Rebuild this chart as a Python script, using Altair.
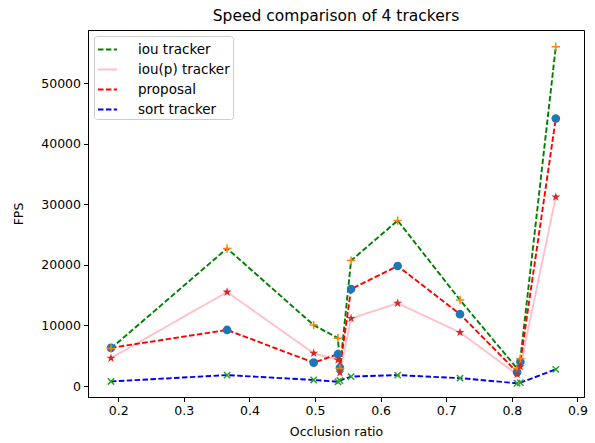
import altair as alt
import pandas as pd

occlusion = [0.189, 0.366, 0.498, 0.535, 0.538, 0.555, 0.626, 0.721, 0.808, 0.813, 0.867]
iou_tracker = [6200, 22700, 10050, 7900, 2900, 20700, 27300, 14200, 2900, 4500, 56000]
iou_p_tracker = [4600, 15500, 5400, 4300, 2200, 11150, 13650, 8850, 1900, 3200, 31200]
proposal = [6300, 9250, 3850, 5250, 3000, 16000, 19800, 11850, 2300, 4000, 44150]
sort_tracker = [750, 1800, 1000, 700, 900, 1550, 1800, 1300, 450, 550, 2750]

series_names = ["iou tracker", "iou(p) tracker", "proposal", "sort tracker"]
series_vals = [iou_tracker, iou_p_tracker, proposal, sort_tracker]
line_colors = ["#008000", "#ffc0cb", "#ff0000", "#0000ff"]
line_dashes = [[5.5, 2.4], [1, 0], [5.5, 2.4], [5.5, 2.4]]

rows = []
for name, vals in zip(series_names, series_vals):
    for x, y in zip(occlusion, vals):
        rows.append({"ratio": x, "fps": y, "series": name})
df = pd.DataFrame(rows)

xs = alt.Scale(domain=[0.154, 0.91], nice=False, zero=False)
ys = alt.Scale(domain=[-1815, 58750], nice=False, zero=False)

x_enc = alt.X("ratio:Q", scale=xs, title="Occlusion ratio",
              axis=alt.Axis(values=[0.2, 0.3, 0.4, 0.5, 0.6, 0.7, 0.8, 0.9], format=".1f"))
y_enc = alt.Y("fps:Q", scale=ys, title="FPS",
              axis=alt.Axis(values=[0, 10000, 20000, 30000, 40000, 50000], format="d"))

STAR = ("M0,-1L0.2245,-0.309L0.951,-0.309L0.363,0.118L0.588,0.809L0,0.382"
        "L-0.588,0.809L-0.363,0.118L-0.951,-0.309L-0.2245,-0.309Z")

base = alt.Chart(df)

lines = base.mark_line(strokeWidth=1.9).encode(
    x=x_enc,
    y=y_enc,
    color=alt.Color("series:N", scale=alt.Scale(domain=series_names, range=line_colors),
                    legend=alt.Legend(title=None)),
    strokeDash=alt.StrokeDash("series:N", scale=alt.Scale(domain=series_names, range=line_dashes),
                              legend=alt.Legend(title=None)),
)

circles = base.transform_filter(alt.datum.series == "proposal").mark_point(
    shape="circle", filled=True, size=75, color="#1f77b4", opacity=1).encode(x=x_enc, y=y_enc)
pluses = base.transform_filter(alt.datum.series == "iou tracker").mark_point(
    shape="M-1,0L1,0M0,-1L0,1", filled=False, size=70, color="#ff7f0e", strokeWidth=1.5, opacity=1
).encode(x=x_enc, y=y_enc)
crosses = base.transform_filter(alt.datum.series == "sort tracker").mark_point(
    shape="M-1,-1L1,1M-1,1L1,-1", filled=False, size=40, color="#2ca02c", strokeWidth=1.5, opacity=1
).encode(x=x_enc, y=y_enc)
stars = base.transform_filter(alt.datum.series == "iou(p) tracker").mark_point(
    shape=STAR, filled=True, size=90, color="#d62728", opacity=1).encode(x=x_enc, y=y_enc)

chart = alt.layer(lines, circles, pluses, crosses, stars).properties(
    width=496, height=367,
    autosize=alt.AutoSizeParams(type="none"),
    padding={"left": 88, "top": 30, "right": 11, "bottom": 46},
    title=alt.TitleParams("Speed comparison of 4 trackers", fontSize=15.5, fontWeight="normal",
                          font="DejaVu Sans", color="black", offset=6),
).configure_view(stroke="black", strokeWidth=1).configure_axis(
    labelFont="DejaVu Sans", labelFontSize=12.5, labelColor="black",
    titleFont="DejaVu Sans", titleFontSize=12.5, titleFontWeight="normal", titleColor="black",
    tickColor="black", domainColor="black", tickSize=4.5, grid=False, labelPadding=3,
).configure_axisY(titlePadding=15).configure_axisX(titlePadding=8).configure_legend(
    orient="top-left", offset=6, padding=3, strokeColor="#cccccc", fillColor="white",
    cornerRadius=3, labelFont="DejaVu Sans", labelFontSize=13.5, labelColor="black",
    symbolType="stroke", symbolSize=361, symbolStrokeWidth=2, rowPadding=3, labelOffset=20,
)

chart.save("out.html", embed_options={"renderer": "svg", "actions": False})
